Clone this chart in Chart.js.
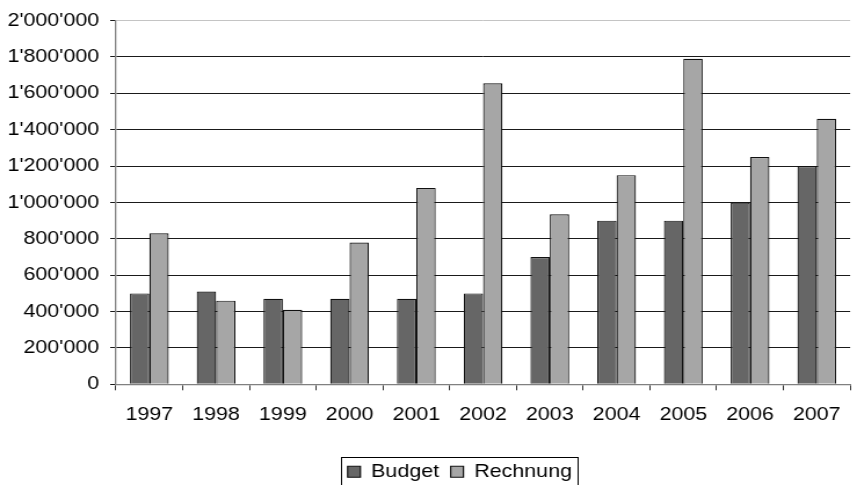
<!DOCTYPE html>
<html><head><meta charset="utf-8">
<script src="https://cdn.jsdelivr.net/npm/chart.js@4"></script>
<style>html,body{margin:0;padding:0;background:#fff;overflow:hidden}canvas{display:block}</style>
</head>
<body>
<canvas id="c" width="739" height="485" style="width:857px;height:485px"></canvas>
<script>
const years = ['1997','1998','1999','2000','2001','2002','2003','2004','2005','2006','2007'];
const budget = [500000, 510000, 470000, 470000, 470000, 500000, 700000, 900000, 900000, 1000000, 1200000];
const rechnung = [830000, 460000, 410000, 780000, 1080000, 1655000, 935000, 1150000, 1790000, 1250000, 1460000];
const seriesNames = ['Budget', 'Rechnung'];
const yTicks = [0, 200000, 400000, 600000, 800000, 1000000, 1200000, 1400000, 1600000, 1800000, 2000000];

function fmt(v) { return String(v).replace(/\B(?=(\d{3})+(?!\d))/g, "'"); }

Chart.defaults.font.family = "'Liberation Sans', Arial, sans-serif";
Chart.defaults.font.size = 18.5;
Chart.defaults.color = '#000';

const legendPlacer = {
  id: 'legendPlacer',
  afterLayout(chart) {
    const lg = chart.legend;
    const h = lg.height;
    lg.top = 452.5; lg.bottom = lg.top + h;
    const shift = 396.5 - (lg.left + lg.right) / 2;
    lg.left += shift; lg.right += shift;
  },
  afterDraw(chart) {
    const lg = chart.legend, hb = lg.legendHitBoxes;
    if (!hb || !hb.length) return;
    const b0 = hb[0], b1 = hb[hb.length - 1];
    const x0 = b0.left - 6, x1 = b1.left + b1.width + 5;
    const cy = b0.top + b0.height / 2;
    const y0 = cy - 14.8;
    const ctx = chart.ctx;
    ctx.save();
    ctx.strokeStyle = '#000';
    ctx.lineWidth = 1;
    ctx.strokeRect(Math.round(x0) + 0.5, Math.round(y0) + 0.5, Math.round(x1 - x0), 60);
    ctx.restore();
  }
};

new Chart(document.getElementById('c'), {
  type: 'bar',
  data: {
    labels: years,
    datasets: [
      { label: seriesNames[0], data: budget, backgroundColor: '#666666', borderColor: '#111', borderWidth: 1.2 },
      { label: seriesNames[1], data: rechnung, backgroundColor: '#a6a6a6', borderColor: '#111', borderWidth: 1.2 }
    ]
  },
  options: {
    responsive: false,
    devicePixelRatio: 1,
    animation: false,
    layout: { padding: { top: 16, left: 0, right: 2, bottom: 6 } },
    datasets: { bar: { categoryPercentage: 0.58, barPercentage: 1 } },
    plugins: {
      tooltip: { enabled: false },
      legend: {
        position: 'bottom',
        labels: { boxWidth: 11, boxHeight: 11, padding: 10, color: '#000' }
      }
    },
    scales: {
      x: {
        offset: true,
        grid: { display: true, drawOnChartArea: false, drawTicks: true, tickLength: 6, color: '#333', offset: true },
        border: { display: true, color: '#808080', width: 1.3 },
        ticks: { padding: 14, maxRotation: 0, autoSkip: false, color: '#000' }
      },
      y: {
        min: 0, max: 2000000,
        afterBuildTicks(scale) { scale.ticks = yTicks.map(v => ({ value: v })); },
        afterFit(scale) { scale.width = 100; },
        grid: {
          color: c => (c.tick && c.tick.value === 2000000) ? '#c4c4c4' : ((c.tick && c.tick.value === 0) ? 'rgba(0,0,0,0)' : '#1a1a1a'),
          tickColor: '#1a1a1a',
          tickLength: 5,
          lineWidth: 1
        },
        border: { display: true, color: '#808080', width: 1.3 },
        ticks: { padding: 9.5, color: '#000', callback: v => fmt(v) }
      }
    }
  },
  plugins: [legendPlacer]
});
</script>
</body></html>
